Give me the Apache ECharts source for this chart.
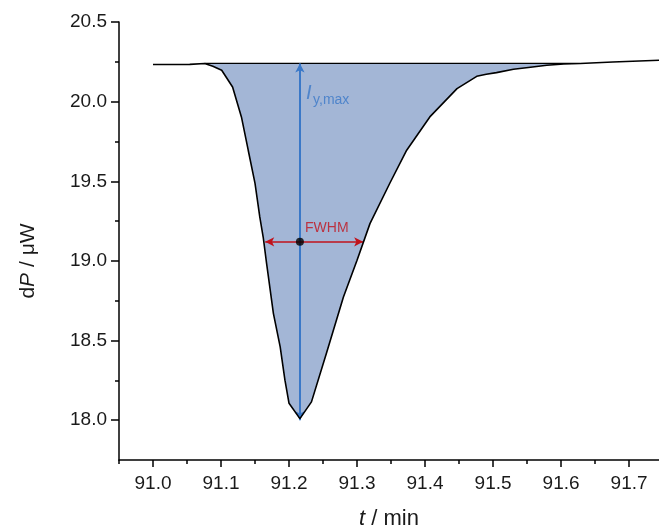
<!DOCTYPE html>
<html>
<head>
<meta charset="utf-8">
<script src="https://cdn.jsdelivr.net/npm/echarts@6/dist/echarts.min.js"></script>
<style>
html,body{margin:0;padding:0;background:#fff;}
#chart{width:659px;height:526px;}
</style>
</head>
<body>
<div id="chart"></div>
<script>
// ---- data ----
const tValues = [91.000, 91.030, 91.054, 91.076, 91.088, 91.101, 91.117, 91.130, 91.140, 91.150,
  91.157, 91.162, 91.167, 91.177, 91.187, 91.194, 91.200, 91.216, 91.233, 91.255,
  91.280, 91.300, 91.319, 91.348, 91.373, 91.407, 91.447, 91.476, 91.490, 91.505,
  91.530, 91.555, 91.579, 91.604, 91.628, 91.676, 91.744];
const dPValues = [20.233, 20.233, 20.234, 20.239, 20.222, 20.197, 20.092, 19.904, 19.695, 19.487,
  19.276, 19.150, 18.985, 18.671, 18.460, 18.251, 18.106, 18.010, 18.115, 18.420,
  18.774, 19.004, 19.234, 19.486, 19.695, 19.904, 20.082, 20.159, 20.172, 20.182,
  20.203, 20.216, 20.228, 20.236, 20.239, 20.249, 20.260];
const baselineLevel = 20.24;
const fillRange = [91.076, 91.628];
const peakT = 91.216;
const peakMin = 18.0;
const halfMax = 19.12;
const fwhmRange = [91.165, 91.309];

const xMajorTicks = [91.0, 91.1, 91.2, 91.3, 91.4, 91.5, 91.6, 91.7];
const xMinorTicks = [90.95, 91.05, 91.15, 91.25, 91.35, 91.45, 91.55, 91.65];
const yMajorTicks = [18.0, 18.5, 19.0, 19.5, 20.0, 20.5];
const yMinorTicks = [18.25, 18.75, 19.25, 19.75, 20.25];

// ---- styles ----
const FONT = "'Liberation Sans', Arial, Helvetica, sans-serif";
const BLUE = '#3a78c8';
const RED = '#c0121b';
const FILL = '#a3b6d6';
const axisLineStyle = {color: '#000', width: 1.5};

const curve = tValues.map((t, i) => [t, dPValues[i]]);
const fillPts = curve.filter(p => p[0] >= fillRange[0] && p[0] <= fillRange[1]);

const xMin = 90.95, xMax = 91.744, yMin = 17.75, yMax = 20.5;

function xAxisDef(ticks, len, labels) {
  return {
    type: 'value', min: xMin, max: xMax, position: 'bottom',
    axisLine: {show: labels, onZero: false, lineStyle: axisLineStyle},
    axisTick: {show: true, length: len, customValues: ticks, lineStyle: axisLineStyle},
    axisLabel: labels ? {show: true, customValues: ticks, formatter: v => v.toFixed(1),
      fontSize: 19, color: '#1a1a1a', margin: 14, fontFamily: FONT} : {show: false},
    splitLine: {show: false},
    name: labels ? '{it|t} / min' : '',
    nameLocation: 'middle', nameGap: 48,
    nameTextStyle: {fontSize: 22, color: '#1a1a1a', fontFamily: FONT,
      rich: {it: {fontSize: 22, fontStyle: 'italic', color: '#1a1a1a', fontFamily: FONT}}}
  };
}
function yAxisDef(ticks, len, labels) {
  return {
    type: 'value', min: yMin, max: yMax, position: 'left',
    axisLine: {show: labels, onZero: false, lineStyle: axisLineStyle},
    axisTick: {show: true, length: len, customValues: ticks, lineStyle: axisLineStyle},
    axisLabel: labels ? {show: true, customValues: ticks, formatter: v => v.toFixed(1),
      fontSize: 19, color: '#1a1a1a', margin: 12, fontFamily: FONT} : {show: false},
    splitLine: {show: false},
    name: labels ? 'd{it|P} / μW' : '',
    nameLocation: 'middle', nameGap: 80,
    nameTextStyle: {fontSize: 21, color: '#1a1a1a', fontFamily: FONT, padding: [0, 40, 0, 0],
      rich: {it: {fontSize: 21, fontStyle: 'italic', color: '#1a1a1a', fontFamily: FONT}}}
  };
}

const chart = echarts.init(document.getElementById('chart'), null, {renderer: 'canvas'});
chart.setOption({
  animation: false,
  backgroundColor: '#fff',
  grid: {left: 119, right: 0, top: 22, bottom: 66, containLabel: false, outerBoundsMode: 'none'},
  xAxis: [xAxisDef(xMajorTicks, 7, true), xAxisDef(xMinorTicks, 4, false)],
  yAxis: [yAxisDef(yMajorTicks, 8, true), yAxisDef(yMinorTicks, 4, false)],
  series: [
    {type: 'custom', silent: true, z: 1,
      data: [[fillRange[0], baselineLevel]],
      renderItem: function (params, api) {
        const pts = fillPts.map(p => api.coord(p));
        pts.push(api.coord([fillRange[1], baselineLevel]));
        pts.push(api.coord([fillRange[0], baselineLevel]));
        return {type: 'polygon', shape: {points: pts}, style: {fill: FILL, stroke: null}};
      }},
    {type: 'line', data: [[fillRange[0], baselineLevel], [fillRange[1], baselineLevel]],
      symbol: 'none', silent: true, lineStyle: {color: '#000', width: 1.4}, z: 3},
    {type: 'line', data: [], silent: true, z: 4,
      markLine: {
        silent: true, symbol: ['arrow', 'arrow'], symbolSize: [7, 9],
        label: {show: false}, emphasis: {disabled: true},
        data: [
          [{coord: [peakT, peakMin], lineStyle: {color: BLUE, width: 2, type: 'solid'}},
           {coord: [peakT, baselineLevel]}],
          [{coord: [fwhmRange[0], halfMax], lineStyle: {color: RED, width: 1.6, type: 'solid'}},
           {coord: [fwhmRange[1], halfMax]}]
        ]
      }},
    {type: 'line', data: curve, symbol: 'none', silent: true,
      lineStyle: {color: '#000', width: 1.6}, z: 5},
    {type: 'scatter', data: [[peakT, halfMax]], symbol: 'circle', symbolSize: 8,
      itemStyle: {color: '#000'}, silent: true, z: 6},
    {type: 'scatter', symbolSize: 0, silent: true, z: 6,
      data: [
        {value: [91.225, 20.051], label: {formatter: 'I', fontSize: 20, fontStyle: 'italic', color: BLUE}},
        {value: [91.2353, 20.007], label: {formatter: 'y,max', fontSize: 14, color: BLUE}},
        {value: [91.2235, 19.204], label: {formatter: 'FWHM', fontSize: 14, color: RED}}
      ],
      label: {show: true, position: 'right', distance: 0, fontFamily: FONT}}
  ]
});
</script>
</body>
</html>
